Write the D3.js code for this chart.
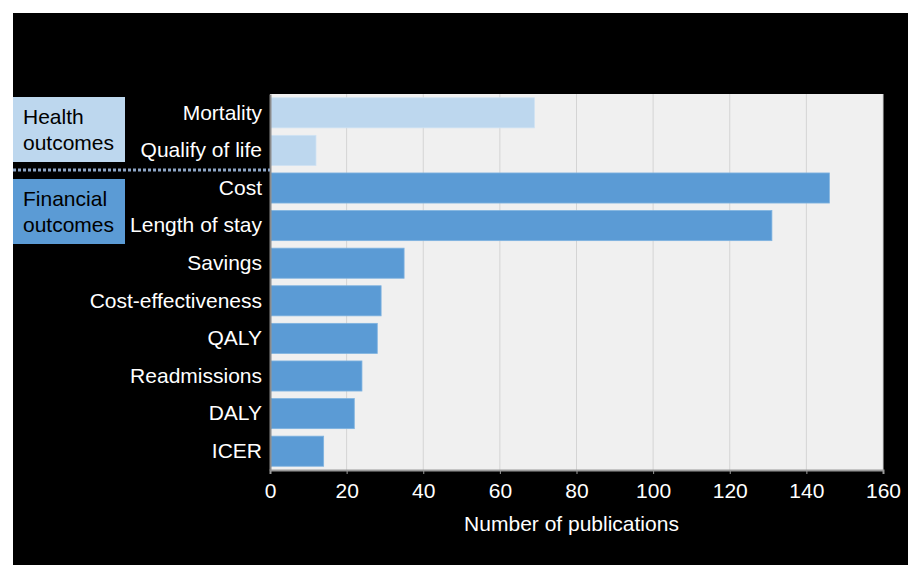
<!DOCTYPE html>
<html>
<head>
<meta charset="utf-8">
<script src="https://cdn.jsdelivr.net/npm/d3@7"></script>
<style>
  body { margin: 0; background: #fff; }
  text { font-family: "Liberation Sans", Arial, sans-serif; }
</style>
</head>
<body>
<div id="chart"></div>
<script>
// data
var outcomes = ["Mortality", "Qualify of life", "Cost", "Length of stay", "Savings",
  "Cost-effectiveness", "QALY", "Readmissions", "DALY", "ICER"];
var publications = [69, 12, 146, 131, 35, 29, 28, 24, 22, 14];
var groupOf = ["Health", "Health", "Financial", "Financial", "Financial",
  "Financial", "Financial", "Financial", "Financial", "Financial"];
var xTicks = [0, 20, 40, 60, 80, 100, 120, 140, 160];

var W = 908, H = 565;
var margin = { top: 94, left: 270 };
var fs = "21px";

var colors = { Health: "#bdd7ee", Financial: "#5b9bd5" };

var svg = d3.select("#chart").append("svg")
  .attr("width", W).attr("height", H);

// black panel
svg.append("rect")
  .attr("x", 13).attr("y", 13)
  .attr("width", W - 13).attr("height", H - 13)
  .attr("fill", "#000");

var g = svg.append("g")
  .attr("transform", "translate(" + margin.left + "," + margin.top + ")");

var x = d3.scaleLinear().domain([0, 160]).range([0, 613]);
var y = d3.scaleBand().domain(outcomes).range([0, 376]).paddingInner(0.2).paddingOuter(0.1);

// plot background
g.append("rect")
  .attr("width", x(160)).attr("height", 376)
  .attr("fill", "#f0f0f0");

// grid
g.append("g").selectAll("line")
  .data(xTicks.slice(1))
  .enter().append("line")
  .attr("x1", d => x(d)).attr("x2", d => x(d))
  .attr("y1", 0).attr("y2", 376)
  .attr("stroke", "#d4d4d4");

// bars
g.append("g").selectAll("rect")
  .data(outcomes)
  .enter().append("rect")
  .attr("x", 1)
  .attr("y", d => y(d))
  .attr("width", (d, i) => x(publications[i]) - 1)
  .attr("height", y.bandwidth())
  .attr("fill", (d, i) => colors[groupOf[i]])
  .attr("stroke", (d, i) => groupOf[i] == "Health" ? "#cfe2f3" : "#7fb3e0")
  .attr("stroke-width", 0.8);

// x axis
var xAxis = g.append("g")
  .attr("transform", "translate(0,376)")
  .call(d3.axisBottom(x).tickValues(xTicks).tickSize(4).tickPadding(9));
xAxis.select(".domain").attr("stroke", "#9a9a9a").attr("stroke-width", 2);
xAxis.selectAll(".tick line").attr("stroke", "#9a9a9a");
xAxis.selectAll("text")
  .attr("fill", "#fff").style("font-size", fs)
  .style("font-family", "'Liberation Sans', Arial, sans-serif");

// y axis
var yAxis = g.append("g")
  .call(d3.axisLeft(y).tickSize(0).tickPadding(8));
yAxis.select(".domain").attr("stroke", "#8a8a8a").attr("stroke-width", 2);
yAxis.selectAll("text")
  .attr("fill", "#fff").style("font-size", fs)
  .style("font-family", "'Liberation Sans', Arial, sans-serif");

// axis title
svg.append("text")
  .attr("x", margin.left + x(80) - 5).attr("y", 531)
  .attr("text-anchor", "middle")
  .attr("fill", "#fff")
  .style("font-size", fs)
  .text("Number of publications");

// separator between groups
svg.append("line")
  .attr("x1", 13).attr("x2", margin.left)
  .attr("y1", 170).attr("y2", 170)
  .attr("stroke", "#8da5c6").attr("stroke-width", 3)
  .attr("stroke-dasharray", "3,2");

// group labels
var groups = [
  { name: "Health", lines: ["Health", "outcomes"], y0: 97 },
  { name: "Financial", lines: ["Financial", "outcomes"], y0: 179 }
];
var gb = svg.selectAll(".groupbox").data(groups).enter().append("g")
  .attr("class", "groupbox");
gb.append("rect")
  .attr("x", 13).attr("y", d => d.y0)
  .attr("width", 112).attr("height", 65)
  .attr("fill", d => colors[d.name]);
gb.append("text")
  .attr("x", 23).attr("y", d => d.y0 + 27)
  .attr("fill", "#000").style("font-size", fs)
  .text(d => d.lines[0]);
gb.append("text")
  .attr("x", 23).attr("y", d => d.y0 + 53)
  .attr("fill", "#000").style("font-size", fs)
  .text(d => d.lines[1]);
</script>
</body>
</html>
